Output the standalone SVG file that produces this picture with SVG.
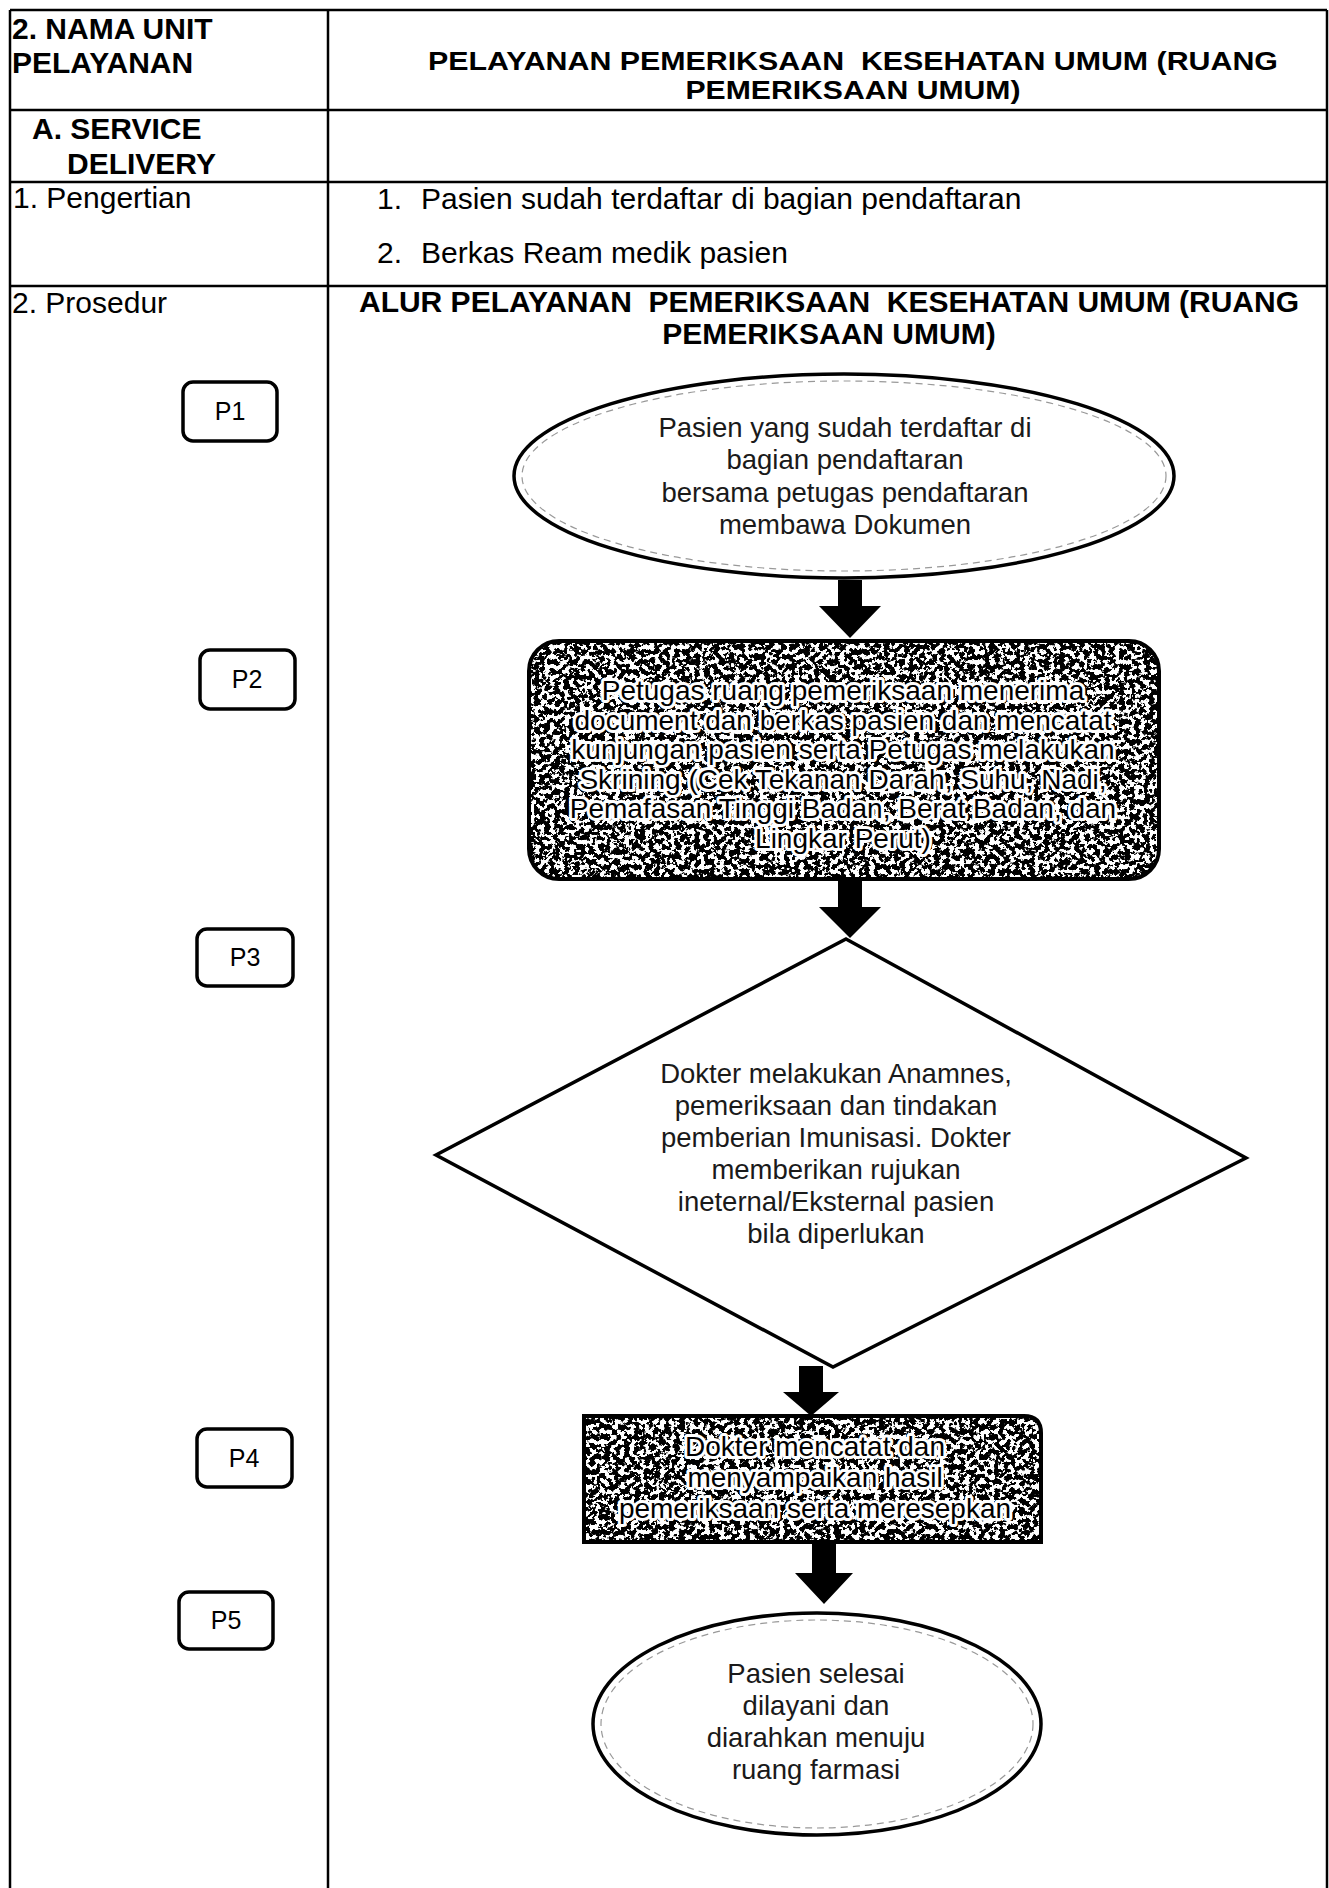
<svg xmlns="http://www.w3.org/2000/svg" width="1329" height="1888" viewBox="0 0 1329 1888">
<defs>
<filter id="speckle" x="0" y="0" width="1" height="1">
<feTurbulence type="fractalNoise" baseFrequency="0.2" numOctaves="3" seed="11" result="n"/>
<feColorMatrix in="n" type="matrix" values="0 0 0 0 0  0 0 0 0 0  0 0 0 0 0  -20 0 0 0 10.9" result="a"/>
<feComposite in="a" in2="SourceAlpha" operator="in"/>
</filter>
</defs>
<style>
.t{font-family:"Liberation Sans",Arial,sans-serif;fill:#000}
.b{font-weight:bold;font-size:30px}
.r{font-size:30px}
.ttl{font-weight:bold;font-size:25px;text-anchor:middle}
.line{stroke:#000;stroke-width:2.5;fill:none}
.pbox{fill:#fff;stroke:#000;stroke-width:3.5}
.plab{font-size:25px;text-anchor:middle}
.nt{font-size:27.5px;text-anchor:middle;fill:#1a1a1a}
.ht{font-size:28px;text-anchor:middle;fill:#000;stroke:#fff;stroke-width:6;stroke-linejoin:round;paint-order:stroke}
.shape{fill:#fff;stroke:#000;stroke-width:3.5}
.inner{fill:none;stroke:#999;stroke-width:1.2;stroke-dasharray:7 5}
.arrow{fill:#000}
</style>
<rect x="0" y="0" width="1329" height="1888" fill="#fff"/>

<g id="table">
<line class="line" x1="10" y1="10" x2="1327" y2="10" stroke-width="3"/>
<line class="line" x1="10" y1="110" x2="1327" y2="110"/>
<line class="line" x1="10" y1="182" x2="1327" y2="182"/>
<line class="line" x1="10" y1="286" x2="1327" y2="286"/>
<line class="line" x1="10" y1="10" x2="10" y2="1888"/>
<line class="line" x1="328" y1="10" x2="328" y2="1888"/>
<line class="line" x1="1327" y1="10" x2="1327" y2="1888"/>
<text class="t b" x="12" y="39">2. NAMA UNIT</text>
<text class="t b" x="12" y="73">PELAYANAN</text>
<text class="t ttl" x="853" y="70" textLength="850" lengthAdjust="spacingAndGlyphs" xml:space="preserve">PELAYANAN PEMERIKSAAN  KESEHATAN UMUM (RUANG</text>
<text class="t ttl" x="853" y="99" textLength="335" lengthAdjust="spacingAndGlyphs">PEMERIKSAAN UMUM)</text>
<text class="t b" x="32" y="139">A. SERVICE</text>
<text class="t b" x="67" y="174">DELIVERY</text>
<text class="t r" x="13" y="208">1. Pengertian</text>
<text class="t r" x="377" y="209">1.</text>
<text class="t r" x="421" y="209">Pasien sudah terdaftar di bagian pendaftaran</text>
<text class="t r" x="377" y="263">2.</text>
<text class="t r" x="421" y="263">Berkas Ream medik pasien</text>
<text class="t r" x="12" y="313">2. Prosedur</text>
<text class="t b" x="829" y="312" text-anchor="middle" xml:space="preserve">ALUR PELAYANAN  PEMERIKSAAN  KESEHATAN UMUM (RUANG</text>
<text class="t b" x="829" y="344" text-anchor="middle">PEMERIKSAAN UMUM)</text>
</g>

<g id="label-p1"><rect class="pbox" x="183" y="382" width="94" height="59" rx="10"/><text class="t plab" x="230" y="420">P1</text></g>
<g id="label-p2"><rect class="pbox" x="200" y="650" width="95" height="59" rx="10"/><text class="t plab" x="247" y="688">P2</text></g>
<g id="label-p3"><rect class="pbox" x="197" y="929" width="96" height="57" rx="10"/><text class="t plab" x="245" y="966">P3</text></g>
<g id="label-p4"><rect class="pbox" x="197" y="1429" width="95" height="58" rx="10"/><text class="t plab" x="244" y="1467">P4</text></g>
<g id="label-p5"><rect class="pbox" x="179" y="1592" width="94" height="57" rx="10"/><text class="t plab" x="226" y="1629">P5</text></g>

<g id="node-1">
<ellipse class="shape" cx="844" cy="476" rx="330" ry="102"/>
<ellipse class="inner" cx="844" cy="476" rx="322" ry="95"/>
<text class="t nt" x="845" y="437">Pasien yang sudah terdaftar di</text>
<text class="t nt" x="845" y="469">bagian pendaftaran</text>
<text class="t nt" x="845" y="502">bersama petugas pendaftaran</text>
<text class="t nt" x="845" y="534">membawa Dokumen</text>
</g>

<g id="node-2">
<rect x="529" y="641" width="630" height="238" rx="30" fill="#fff"/>
<rect x="529" y="641" width="630" height="238" rx="30" fill="#000" filter="url(#speckle)"/>
<rect x="529" y="641" width="630" height="238" rx="30" fill="none" stroke="#000" stroke-width="4"/>
<text class="t ht" x="843" y="700">Petugas ruang pemeriksaan menerima</text>
<text class="t ht" x="843" y="729.5">document dan berkas pasien dan mencatat</text>
<text class="t ht" x="843" y="759">kunjungan pasien serta Petugas melakukan</text>
<text class="t ht" x="843" y="788.5">Skrining (Cek Tekanan Darah, Suhu, Nadi,</text>
<text class="t ht" x="843" y="818">Pemafasan Tinggi Badan, Berat Badan, dan</text>
<text class="t ht" x="843" y="847.5">Lingkar Perut)</text>
</g>

<g id="node-3">
<polygon class="shape" points="846,939 1246,1158 833,1367 436,1155"/>
<text class="t nt" x="836" y="1083">Dokter melakukan Anamnes,</text>
<text class="t nt" x="836" y="1115">pemeriksaan dan tindakan</text>
<text class="t nt" x="836" y="1147">pemberian Imunisasi. Dokter</text>
<text class="t nt" x="836" y="1179">memberikan rujukan</text>
<text class="t nt" x="836" y="1211">ineternal/Eksternal pasien</text>
<text class="t nt" x="836" y="1243">bila diperlukan</text>
</g>

<g id="node-4">
<path d="M584 1416 H1024 Q1041 1416 1041 1433 V1542 H584 Z" fill="#fff"/>
<path d="M584 1416 H1024 Q1041 1416 1041 1433 V1542 H584 Z" fill="#000" filter="url(#speckle)"/>
<path d="M584 1416 H1024 Q1041 1416 1041 1433 V1542 H584 Z" fill="none" stroke="#000" stroke-width="4"/>
<text class="t ht" x="815" y="1456">Dokter mencatat dan</text>
<text class="t ht" x="815" y="1487">menyampaikan hasil</text>
<text class="t ht" x="815" y="1518">pemeriksaan serta meresepkan</text>
</g>

<g id="node-5">
<ellipse class="shape" cx="817" cy="1724" rx="224" ry="111"/>
<ellipse class="inner" cx="817" cy="1724" rx="216" ry="104"/>
<text class="t nt" x="816" y="1683">Pasien selesai</text>
<text class="t nt" x="816" y="1715">dilayani dan</text>
<text class="t nt" x="816" y="1747">diarahkan menuju</text>
<text class="t nt" x="816" y="1779">ruang farmasi</text>
</g>

<g id="connectors">
<path class="arrow" d="M838 580 H862 V606 H881 L850 638 L819 606 H838 Z"/>
<path class="arrow" d="M838 880 H862 V907 H881 L850 938 L819 907 H838 Z"/>
<path class="arrow" d="M799 1366 H823 V1392 H839 L811 1416 L783 1392 H799 Z"/>
<path class="arrow" d="M812 1543 H836 V1573 H853 L824 1604 L795 1573 H812 Z"/>
</g>
</svg>
